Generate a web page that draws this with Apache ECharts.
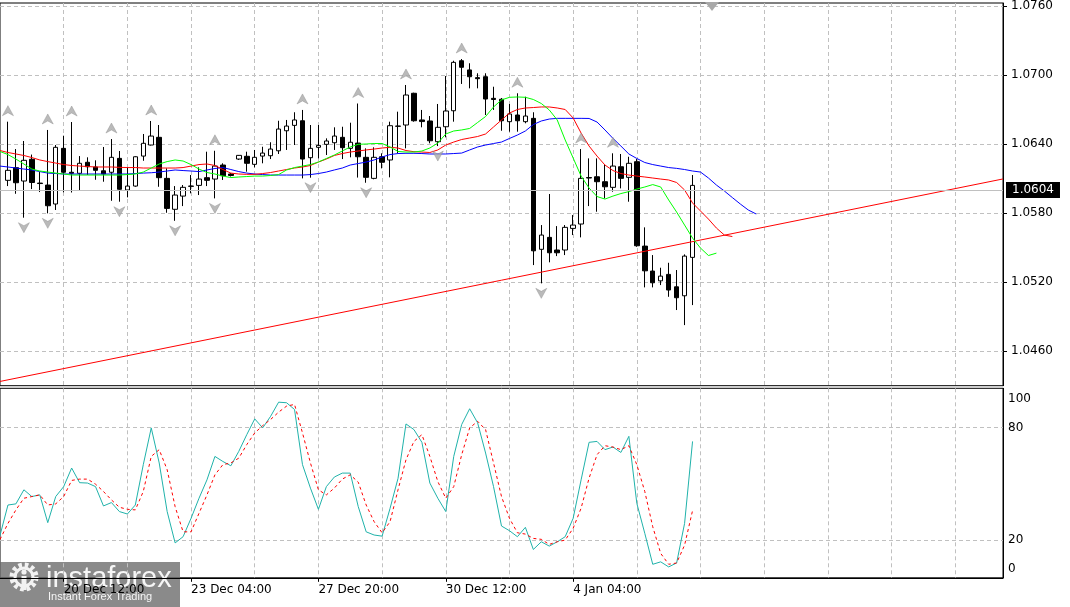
<!DOCTYPE html>
<html>
<head>
<meta charset="utf-8">
<script src="https://cdn.jsdelivr.net/npm/echarts@6/dist/echarts.min.js"></script>
<style>html,body{margin:0;padding:0;background:#fff}#c{width:1070px;height:607px}</style>
</head>
<body>
<div id="c"></div>
<script>
// ---------- DATA (EURUSD H4) ----------
// candle k (0..86)
const open = [1.06084,1.06194,1.06078,1.06267,1.06060,1.06043,1.05878,1.06362,1.06154,1.06145,
1.06241,1.06200,1.06167,1.06154,1.06275,1.06000,1.06034,1.06295,1.06391,1.06458,
1.06101,1.05832,1.05947,1.06034,1.06040,1.06107,1.06095,1.06217,1.06139,1.06269,
1.06293,1.06223,1.06295,1.06298,1.06341,1.06515,1.06562,1.06602,1.06281,1.06371,
1.06397,1.06411,1.06458,1.06362,1.06408,1.06284,1.06101,1.06289,1.06261,1.06556,
1.06565,1.06841,1.06609,1.06600,1.06420,1.06550,1.06689,1.07124,1.07044,1.06977,
1.06985,1.06797,1.06789,1.06594,1.06652,1.06594,1.06623,1.05484,1.05588,1.05478,
1.05478,1.05666,1.05704,1.06108,1.06115,1.06072,1.06023,1.06202,1.06110,1.06246,
1.05512,1.05295,1.05210,1.05266,1.05158,1.05080,1.05414];
const high = [1.06594,1.06356,1.06426,1.06308,1.06156,1.06522,1.06391,1.06472,1.06591,1.06295,
1.06284,1.06258,1.06374,1.06443,1.06339,1.06197,1.06293,1.06487,1.06600,1.06565,
1.06188,1.06034,1.06043,1.06130,1.06197,1.06333,1.06341,1.06232,1.06147,1.06304,
1.06333,1.06348,1.06376,1.06415,1.06602,1.06609,1.06676,1.06696,1.06565,1.06565,
1.06449,1.06545,1.06550,1.06585,1.06752,1.06362,1.06371,1.06319,1.06594,1.06681,
1.06913,1.06846,1.06696,1.06643,1.06748,1.06991,1.07124,1.07139,1.07102,1.07015,
1.07015,1.06898,1.06800,1.06748,1.06841,1.06811,1.06676,1.05695,1.05965,1.05686,
1.05695,1.05782,1.06356,1.06275,1.06275,1.06217,1.06319,1.06313,1.06289,1.06269,
1.05675,1.05434,1.05324,1.05367,1.05304,1.05440,1.06130];
const low = [1.06034,1.05967,1.05759,1.06008,1.05982,1.05797,1.05826,1.05980,1.05978,1.05993,
1.06130,1.06089,1.06072,1.05906,1.05898,1.05936,1.06028,1.06254,1.06387,1.06028,
1.05802,1.05732,1.05860,1.05971,1.05956,1.06034,1.05927,1.06087,1.06117,1.06261,
1.06159,1.06197,1.06232,1.06269,1.06313,1.06348,1.06391,1.06101,1.06107,1.06275,
1.06304,1.06348,1.06269,1.06284,1.06108,1.06063,1.06093,1.06188,1.06110,1.06319,
1.06362,1.06594,1.06545,1.06406,1.06382,1.06458,1.06594,1.06922,1.06884,1.06884,
1.06652,1.06696,1.06515,1.06507,1.06507,1.06580,1.05347,1.05188,1.05371,1.05425,
1.05434,1.05608,1.05588,1.05860,1.05811,1.05927,1.05985,1.06014,1.05898,1.05506,
1.05153,1.05153,1.05173,1.05071,1.04956,1.04825,1.04999];
const close = [1.06171,1.06063,1.06258,1.06065,1.06056,1.05863,1.06371,1.06154,1.06145,1.06232,
1.06202,1.06171,1.06139,1.06284,1.06006,1.06034,1.06289,1.06406,1.06469,1.06107,
1.05840,1.05956,1.06023,1.06032,1.06095,1.06084,1.06208,1.06124,1.06126,1.06301,
1.06232,1.06284,1.06321,1.06356,1.06530,1.06556,1.06609,1.06269,1.06362,1.06388,
1.06426,1.06469,1.06368,1.06415,1.06289,1.06110,1.06284,1.06241,1.06559,1.06554,
1.06826,1.06602,1.06595,1.06428,1.06545,1.06687,1.07110,1.07067,1.06985,1.06968,
1.06791,1.06787,1.06602,1.06661,1.06602,1.06643,1.05471,1.05608,1.05454,1.05454,
1.05675,1.05695,1.06101,1.06104,1.06072,1.06028,1.06208,1.06101,1.06232,1.05515,
1.05297,1.05193,1.05251,1.05130,1.05063,1.05425,1.06040];

// Alligator lines, index 0 = bar just before candle 0, index i = candle i-1 (shifted lines run past the last candle)
const jaw = [1.06208,1.06200,1.06191,1.06182,1.06174,1.06160,1.06147,1.06143,
1.06139,1.06139,1.06139,1.06139,1.06139,1.06139,1.06139,1.06139,1.06139,
1.06143,1.06147,1.06150,1.06156,1.06165,1.06174,1.06169,1.06165,1.06160,1.06174,
1.06187,1.06195,1.06178,1.06160,1.06147,1.06139,1.06134,
1.06130,1.06130,1.06130,1.06130,1.06130,
1.06134,1.06143,1.06156,1.06174,1.06191,1.06217,1.06230,1.06243,1.06261,1.06287,
1.06308,1.06317,1.06319,1.06319,1.06317,1.06313,1.06313,1.06313,1.06317,1.06321,
1.06348,1.06374,1.06391,1.06404,1.06417,1.06448,1.06478,1.06513,1.06569,1.06600,1.06617,
1.06623,1.06623,1.06623,1.06623,
1.06622,1.06591,1.06522,1.06449,1.06382,1.06313,1.06274,1.06239,1.06221,1.06208,
1.06195,1.06188,1.06178,1.06165,1.06156,1.06104,1.06043,1.05991,1.05934,1.05878,1.05826,1.05791];
const teeth = [1.06343,1.06326,1.06313,1.06300,1.06282,1.06261,1.06247,1.06234,1.06221,1.06213,1.06208,
1.06204,1.06200,1.06200,1.06200,1.06197,1.06195,1.06195,1.06191,1.06191,1.06191,
1.06191,1.06191,1.06195,1.06208,1.06221,1.06226,1.06213,1.06178,1.06147,1.06139,
1.06136,1.06136,1.06143,1.06152,1.06165,1.06178,1.06191,1.06200,1.06213,1.06243,
1.06269,1.06300,1.06317,1.06330,1.06339,1.06348,1.06356,1.06365,1.06371,1.06365,
1.06343,1.06333,1.06330,1.06326,1.06348,1.06391,1.06417,1.06439,1.06452,1.06465,
1.06487,1.06548,1.06609,1.06669,1.06700,1.06713,1.06717,1.06722,1.06722,1.06713,
1.06700,1.06626,1.06495,1.06382,1.06295,1.06217,1.06169,1.06143,1.06130,1.06121,
1.06113,1.06104,1.06095,1.06087,1.06065,1.06000,1.05887,1.05817,1.05747,1.05669,
1.05608,1.05595];
const lips = [1.06335,1.06308,1.06269,1.06226,1.06182,1.06165,1.06156,1.06147,1.06139,1.06130,1.06130,
1.06130,1.06130,1.06130,1.06130,1.06130,1.06134,1.06139,1.06156,1.06191,1.06226,
1.06247,1.06261,1.06252,1.06221,1.06182,1.06152,1.06139,1.06121,1.06108,1.06113,
1.06117,1.06121,1.06121,1.06126,1.06134,1.06174,1.06195,1.06208,1.06221,1.06243,
1.06274,1.06304,1.06339,1.06374,1.06397,1.06400,1.06404,1.06404,1.06374,1.06335,
1.06330,1.06330,1.06339,1.06365,1.06408,1.06487,1.06513,1.06522,1.06535,1.06587,
1.06639,1.06722,1.06783,1.06806,1.06809,1.06806,1.06787,1.06752,1.06696,1.06609,
1.06435,1.06278,1.06121,1.06017,1.05943,1.05921,1.05947,1.05969,1.05986,1.06008,
1.06026,1.06047,1.06026,1.05913,1.05808,1.05695,1.05582,1.05495,1.05430,1.05451];

// Stochastic, index 0 = bar before candle 0
const stochK = [22.6,38.8,39.4,46.9,43.3,44.2,29.4,43.3,48.6,58.5,50.7,
50.5,48.6,38.3,40.1,35.3,34.0,38.8,60.3,79.9,61.2,
35.3,18.6,21.9,31.7,42.4,52.2,64.7,62.0,59.7,67.4,
76.3,84.7,79.9,86.1,93.6,93.3,89.7,60.3,47.8,36.5,
48.6,53.7,55.8,55.8,38.0,24.5,22.8,22.2,37.0,53.0,
82.0,79.0,72.2,50.5,42.4,35.3,64.7,81.7,90.1,82.6,
66.5,48.6,27.6,25.1,21.9,26.9,15.1,19.2,16.9,19.2,
21.9,31.7,52.2,72.2,72.7,68.3,69.7,66.8,75.4,39.7,
23.7,7.2,8.5,5.8,7.9,29.0,72.7];
const stochD = [20.4,29.0,36.2,42.4,43.3,44.2,38.8,39.4,43.3,51.9,52.6,
52.6,49.9,46.0,41.5,37.6,36.5,36.2,46.0,64.7,68.3,
57.6,37.9,24.5,24.5,34.4,44.2,54.9,60.3,61.2,63.8,
71.0,77.2,81.1,84.4,88.3,91.5,92.4,77.2,61.2,46.9,
44.2,47.8,52.6,54.9,51.0,38.8,29.9,24.0,29.9,46.9,
62.9,72.7,76.3,64.7,51.3,42.4,48.6,65.6,79.9,83.4,
79.0,61.2,43.3,31.7,24.0,23.3,21.0,20.5,17.8,19.2,
20.1,26.4,37.1,53.1,65.6,70.4,69.7,68.3,70.4,60.3,
46.0,27.2,13.0,7.2,7.9,17.4,35.8];

// Fractals (candle indices)
const fractalUp = [0,5,8,13,18,26,37,44,50,57,64,72,76];
const fractalDown = [2,5,14,21,26,38,45,54,67];

// Trend line anchors [slot, price]
const trendLine = [[0, 1.04335], [126, 1.06096]];

// Axis tick labels
const timeLabels = {7: '20 Dec 12:00', 23: '23 Dec 04:00', 39: '27 Dec 20:00', 55: '30 Dec 12:00', 71: '4 Jan 04:00'};
const priceTicks = [1.0460, 1.0520, 1.0580, 1.0640, 1.0700, 1.0760];
const stochLevels = [20, 80];
const stochAxisLabels = [0, 20, 80, 100];

// ---------- CHART ----------
const SLOTS = 127;
const categories = Array.from({length: SLOTS}, (_, i) => String(i));
const slotOf = k => k + 1;
const FONT = 'DejaVu Sans';
const GRID_LINE = {color: '#c0c0c0', type: [4, 3], width: 1};
const PRICE_MIN = 1.04298, PRICE_MAX = 1.07626;

const candleData = open.map((o, k) => [slotOf(k), o, close[k], low[k], high[k]]);
const upData = fractalUp.map(k => [slotOf(k), high[k]]);
const downData = fractalDown.map(k => [slotOf(k), low[k]]);
const lastClose = close[close.length - 1];

const labelSlots = {};
Object.keys(timeLabels).forEach(k => { labelSlots[slotOf(+k)] = timeLabels[k]; });

const arrowUp = 'path://M5,0 L10,10 L5,7 L0,10 Z';
const arrowDown = 'path://M0,0 L5,3 L10,0 L5,10 Z';

const stochLabelPos = stochAxisLabels.map(v => v === 0 ? 4.7 : (v === 100 ? 95.3 : v));

const chart = echarts.init(document.getElementById('c'), null, {renderer: 'canvas'});
chart.setOption({
  animation: false,
  backgroundColor: '#ffffff',
  grid: [
    {left: -2.7, top: 3, width: 1005.7, height: 382.7, show: true, borderColor: '#000', borderWidth: 1},
    {left: -2.7, top: 388.3, width: 1005.7, height: 189.5, show: true, borderColor: '#000', borderWidth: 1}
  ],
  xAxis: [
    {type: 'category', gridIndex: 0, data: categories, boundaryGap: false,
     axisLine: {show: false}, axisTick: {show: false}, axisLabel: {show: false},
     splitLine: {show: true, interval: i => i > 0 && i % 8 === 0, lineStyle: GRID_LINE}},
    {type: 'category', gridIndex: 1, data: categories, boundaryGap: false,
     axisLine: {show: true, lineStyle: {color: '#000', width: 1}},
     axisTick: {show: true, length: 4, interval: i => labelSlots[i] !== undefined, lineStyle: {color: '#000'}},
     axisLabel: {interval: i => labelSlots[i] !== undefined, formatter: (v, i) => labelSlots[i] || '',
       align: 'left', margin: 6, color: '#000', fontFamily: FONT, fontSize: 12},
     splitLine: {show: true, interval: i => i > 0 && i % 8 === 0, lineStyle: GRID_LINE}}
  ],
  yAxis: [
    {type: 'value', gridIndex: 0, position: 'right', min: PRICE_MIN, max: PRICE_MAX,
     axisLine: {show: true, lineStyle: {color: '#000', width: 1}},
     axisTick: {show: true, length: 4, customValues: priceTicks, lineStyle: {color: '#000'}},
     axisLabel: {customValues: priceTicks, formatter: v => v.toFixed(4), margin: 8, color: '#000', fontFamily: FONT, fontSize: 12},
     splitLine: {show: true, lineStyle: GRID_LINE}},
    {type: 'value', gridIndex: 1, position: 'right', min: 0, max: 101,
     axisLine: {show: true, lineStyle: {color: '#000', width: 1}},
     axisTick: {show: false, customValues: stochLevels},
     axisLabel: {customValues: stochLabelPos, formatter: v => v < 10 ? '0' : (v > 90 ? '100' : String(Math.round(v))),
       margin: 5, color: '#000', fontFamily: FONT, fontSize: 12},
     splitLine: {show: true, lineStyle: GRID_LINE}}
  ],
  series: [
    {type: 'candlestick', xAxisIndex: 0, yAxisIndex: 0, data: candleData, encode: {x: 0, y: [1, 2, 3, 4]},
     barWidth: 5, z: 2,
     itemStyle: {color: '#ffffff', color0: '#000000', borderColor: '#000000', borderColor0: '#000000', borderWidth: 1},
     markLine: {silent: true, symbol: ['none', 'none'], animation: false,
       data: [{yAxis: lastClose}],
       lineStyle: {color: '#c0c0c0', type: 'solid', width: 1},
       label: {position: 'end', distance: 3, formatter: () => lastClose.toFixed(4), color: '#fff',
         backgroundColor: '#000', padding: [2, 6, 2, 6], fontFamily: FONT, fontSize: 12}}},
    {type: 'line', name: 'trend', xAxisIndex: 0, yAxisIndex: 0, data: trendLine, showSymbol: false, symbol: 'none',
     lineStyle: {color: '#ff0000', width: 1}, z: 3},
    {type: 'line', name: 'jaw', xAxisIndex: 0, yAxisIndex: 0, data: jaw, showSymbol: false, symbol: 'none',
     lineStyle: {color: '#0000ff', width: 1}, z: 4},
    {type: 'line', name: 'teeth', xAxisIndex: 0, yAxisIndex: 0, data: teeth, showSymbol: false, symbol: 'none',
     lineStyle: {color: '#ff0000', width: 1}, z: 4},
    {type: 'line', name: 'lips', xAxisIndex: 0, yAxisIndex: 0, data: lips, showSymbol: false, symbol: 'none',
     lineStyle: {color: '#00ff00', width: 1}, z: 4},
    {type: 'scatter', xAxisIndex: 0, yAxisIndex: 0, data: upData, symbol: arrowUp, symbolSize: [11, 10],
     symbolOffset: [0, -11], itemStyle: {color: '#a9a9a9', borderColor: '#8a8a8a', borderWidth: 0.5}, z: 5},
    {type: 'scatter', xAxisIndex: 0, yAxisIndex: 0, data: downData, symbol: arrowDown, symbolSize: [11, 10],
     symbolOffset: [0, 10], itemStyle: {color: '#a9a9a9', borderColor: '#8a8a8a', borderWidth: 0.5}, z: 5},
    {type: 'line', name: '%K', xAxisIndex: 1, yAxisIndex: 1, data: stochK, showSymbol: false, symbol: 'none',
     lineStyle: {color: '#20b2aa', width: 1}, z: 3},
    {type: 'line', name: '%D', xAxisIndex: 1, yAxisIndex: 1, data: stochD, showSymbol: false, symbol: 'none',
     lineStyle: {color: '#ff0000', width: 1, type: [3, 3]}, z: 4}
  ],
  graphic: [
    {type: 'polygon', shape: {points: [[705, 2], [719, 2], [712, 11]]}, style: {fill: '#a9a9a9'}, z: 50},
    {type: 'group', z: 100, children: [
      {type: 'rect', shape: {x: 0, y: 562, width: 180, height: 45}, style: {fill: 'rgba(105,105,105,0.78)'}},
      {type: 'circle', shape: {cx: 24, cy: 577, r: 11}, style: {fill: 'none', stroke: '#f2f2f2', lineWidth: 7, lineDash: [3.2, 2.6]}},
      {type: 'circle', shape: {cx: 24, cy: 577, r: 9}, style: {fill: 'none', stroke: '#f2f2f2', lineWidth: 3}},
      {type: 'circle', shape: {cx: 24, cy: 572, r: 2.6}, style: {fill: '#f2f2f2'}},
      {type: 'rect', shape: {x: 21.5, y: 576, width: 5, height: 14}, style: {fill: '#f2f2f2'}},
      {type: 'text', x: 46, y: 579, style: {text: 'instaforex', fill: 'rgba(255,255,255,0.92)', font: '29px "Liberation Sans"', verticalAlign: 'middle'}},
      {type: 'text', x: 48, y: 597, style: {text: 'Instant Forex Trading', fill: 'rgba(255,255,255,0.92)', font: '11px "Liberation Sans"', verticalAlign: 'middle'}}
    ]}
  ]
});
</script>
</body>
</html>
